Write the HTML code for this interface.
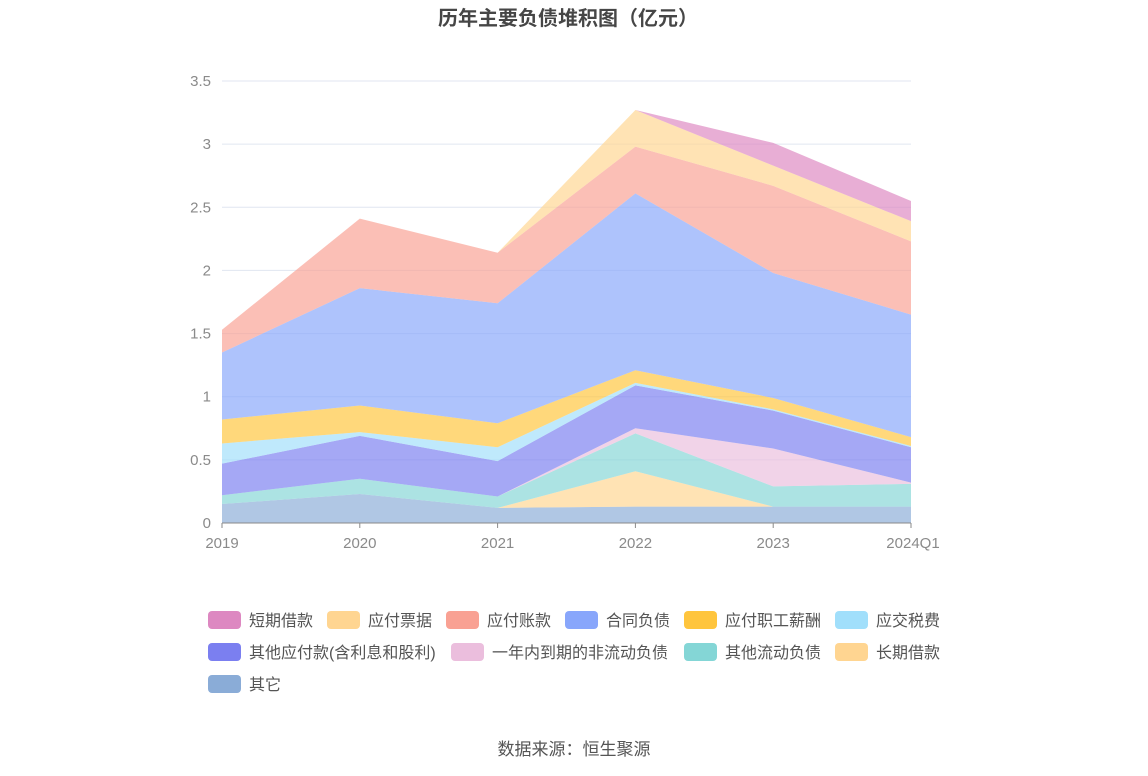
<!DOCTYPE html>
<html><head><meta charset="utf-8">
<style>
body{margin:0;background:#fff;font-family:"Liberation Sans","Noto Sans CJK SC",sans-serif;}
#wrap{position:relative;width:1148px;height:776px;overflow:hidden;}
</style></head>
<body>
<div id="wrap">
<svg id="chart" width="1148" height="776"></svg>
</div>
<script>
const categories = ["2019","2020","2021","2022","2023","2024Q1"];
const seriesNames = ["其它","长期借款","其他流动负债","一年内到期的非流动负债","其他应付款(含利息和股利)","应交税费","应付职工薪酬","合同负债","应付账款","应付票据","短期借款"];
const s_other = [0.15,0.23,0.12,0.13,0.13,0.13];
const s_longLoan = [0,0,0,0.28,0,0];
const s_otherCurrent = [0.07,0.12,0.09,0.30,0.16,0.18];
const s_dueWithinYear = [0,0,0,0.04,0.30,0.01];
const s_otherPayable = [0.25,0.34,0.28,0.34,0.30,0.28];
const s_taxPayable = [0.16,0.03,0.11,0.02,0.01,0.01];
const s_staffPay = [0.19,0.21,0.19,0.10,0.09,0.07];
const s_contract = [0.53,0.93,0.95,1.40,0.99,0.97];
const s_accountsPay = [0.18,0.55,0.40,0.37,0.69,0.58];
const s_notesPay = [0,0,0,0.29,0.16,0.16];
const s_shortLoan = [0,0,0,0,0.18,0.16];
const yTicks = [0,0.5,1,1.5,2,2.5,3,3.5];
const yTickLabels = ["0","0.5","1","1.5","2","2.5","3","3.5"];

const series = [s_other,s_longLoan,s_otherCurrent,s_dueWithinYear,s_otherPayable,s_taxPayable,s_staffPay,s_contract,s_accountsPay,s_notesPay,s_shortLoan];
const colors = ["#8aacd7","#ffd591","#84d6d6","#ebbedd","#7b7ff0","#a1dffb","#ffc53d","#88a6fb","#f9a193","#ffd591","#dd88c1"];
const keys = ["other","long-loan","other-current","due-within-year","other-payable","tax-payable","staff-pay","contract","accounts-pay","notes-pay","short-loan"];
const X0=222,X1=911,Y0=523,Ytop=81,YMAX=3.5;
const xs=i=>X0+(X1-X0)*i/(categories.length-1);
const ys=v=>Y0-(Y0-Ytop)*v/YMAX;
const svg=document.getElementById('chart');
const NS="http://www.w3.org/2000/svg";
function mk(t,a,txt){const e=document.createElementNS(NS,t);for(const k in a)e.setAttribute(k,a[k]);if(txt!==undefined)e.textContent=txt;svg.appendChild(e);return e;}

let t=mk('text',{x:568,y:25,'text-anchor':'middle','font-size':20,'font-weight':'bold',fill:'#464646'},'历年主要负债堆积图（亿元）');



yTicks.forEach((v,i)=>{
  if(v>0){const g=mk('line',{x1:X0,x2:X1,y1:ys(v),y2:ys(v),stroke:'#e0e6f1','stroke-width':1});
  
  }
  const l=mk('text',{x:211,y:ys(v)+5,'text-anchor':'end','font-size':15,fill:'#8a8a8a'},yTickLabels[i]);
  
  
});

let base=categories.map(()=>0);
series.forEach((s,k)=>{
  const top=base.map((b,i)=>b+s[i]);
  let d='M'+categories.map((c,i)=>xs(i)+','+ys(top[i])).join('L');
  for(let i=categories.length-1;i>=0;i--)d+='L'+xs(i)+','+ys(base[i]);
  d+='Z';
  const p=mk('path',{d:d,fill:colors[k],'fill-opacity':0.68,stroke:'none'});
  
  
  base=top;
});

const ax=mk('line',{x1:X0,x2:X1,y1:Y0,y2:Y0,stroke:'#8a8a8a','stroke-width':1});


categories.forEach((c,i)=>{
  const tk=mk('line',{x1:xs(i),x2:xs(i),y1:Y0,y2:Y0+5,stroke:'#8a8a8a'});
  
  
  const l=mk('text',{x:i==categories.length-1?xs(i)+2:xs(i),y:548,'text-anchor':'middle','font-size':15,fill:'#8a8a8a'},c);
  
  
});

const legendOrder=[10,9,8,7,6,5,4,3,2,1,0];
const legendPos=[[208,620],[327,620],[446,620],[565,620],[684,620],[835,620],[208,652],[451,652],[684,652],[835,652],[208,684]];
legendOrder.forEach((k,j)=>{
  const [lx,ly]=legendPos[j];
  const r=mk('rect',{x:lx,y:ly-9,width:33,height:18,rx:4,fill:colors[k]});
  
  
  const l=mk('text',{x:lx+41,y:ly+6,'font-size':16,fill:'#555'},seriesNames[k]);
  
  
});

const src=mk('text',{x:574,y:755,'text-anchor':'middle','font-size':17,fill:'#555'},'数据来源：恒生聚源');


</script>
</body></html>
